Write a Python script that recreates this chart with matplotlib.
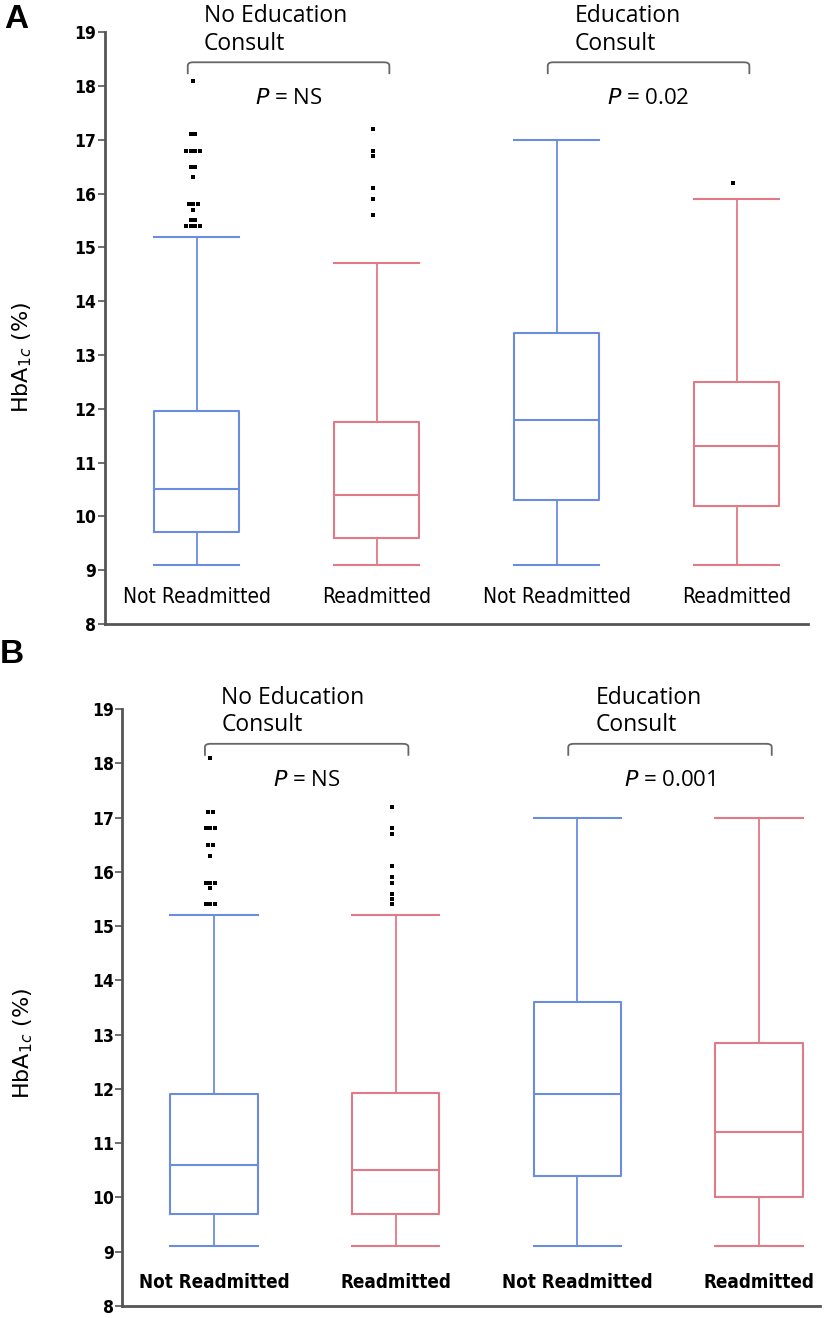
import numpy as np
import matplotlib
matplotlib.use("Agg")
import matplotlib.pyplot as plt
from matplotlib.path import Path
from matplotlib.patches import PathPatch

# group labels
groups = ["Not Readmitted", "Readmitted", "Not Readmitted", "Readmitted"]

# panel A box stats: whislo, q1, med, q3, whishi
a_whislo = [9.1, 9.1, 9.1, 9.1]
a_q1 = [9.7, 9.6, 10.3, 10.2]
a_med = [10.5, 10.4, 11.8, 11.3]
a_q3 = [11.95, 11.75, 13.4, 12.5]
a_whishi = [15.2, 14.7, 17.0, 15.9]
a_fliers = [
    [18.1, 17.1, 17.1, 16.8, 16.8, 16.8, 16.8, 16.5, 16.5, 16.3,
     15.8, 15.8, 15.8, 15.7, 15.5, 15.5, 15.4, 15.4, 15.4, 15.4],
    [17.2, 16.8, 16.7, 16.1, 15.9, 15.6],
    [],
    [16.2],
]
a_pvals = ["NS", "0.02"]

# panel B box stats
b_whislo = [9.1, 9.1, 9.1, 9.1]
b_q1 = [9.7, 9.7, 10.4, 10.0]
b_med = [10.6, 10.5, 11.9, 11.2]
b_q3 = [11.9, 11.92, 13.6, 12.85]
b_whishi = [15.2, 15.2, 17.0, 17.0]
b_fliers = [
    [18.1, 17.1, 17.1, 16.8, 16.8, 16.8, 16.5, 16.5, 16.3,
     15.8, 15.8, 15.8, 15.7, 15.4, 15.4, 15.4],
    [17.2, 16.8, 16.7, 16.1, 15.9, 15.8, 15.6, 15.5, 15.4],
    [],
    [],
]
b_pvals = ["NS", "0.001"]

BLUE = "#6a8de0"
RED = "#e07a86"
colors = [BLUE, RED, BLUE, RED]
narrow = ["DejaVu Sans"]


def bracket(ax, x0, x1, y, drop):
    r = 0.03
    verts = [(x0, y - drop), (x0, y - r * 2), (x0, y), (x0 + r, y),
             (x1 - r, y), (x1, y), (x1, y - r * 2), (x1, y - drop)]
    codes = [Path.MOVETO, Path.LINETO, Path.CURVE3, Path.CURVE3,
             Path.LINETO, Path.CURVE3, Path.CURVE3, Path.LINETO]
    ax.add_patch(PathPatch(Path(verts, codes), fill=False, ec="#666666",
                           lw=1.3, clip_on=False))


def panel(ax, whislo, q1, med, q3, whishi, fliers, pvals, xlim, width,
          br_y, lab_y, cat_weight, cat_size, ylab_pos):
    pos = np.arange(1, 5)
    stats = []
    for i in range(4):
        stats.append(dict(whislo=whislo[i], q1=q1[i], med=med[i], q3=q3[i],
                          whishi=whishi[i], fliers=[]))
    art = ax.bxp(stats, positions=pos, widths=width, showfliers=False,
                 showcaps=True, capwidths=width)
    for i in range(4):
        c = colors[i]
        art["boxes"][i].set(color=c, lw=1.5)
        art["medians"][i].set(color=c, lw=1.5)
        for w in art["whiskers"][2 * i:2 * i + 2]:
            w.set(color=c, lw=1.3)
        for cp in art["caps"][2 * i:2 * i + 2]:
            cp.set(color=c, lw=1.5)
        # outliers, duplicates spread sideways
        vals = fliers[i]
        xs = []
        for v in vals:
            k = vals.count(v)
            j = sum(1 for u in xs if u[1] == v)
            xs.append((pos[i] + (j - (k - 1) / 2) * 0.025 - 0.02, v))
        if xs:
            ax.plot([p[0] for p in xs], [p[1] for p in xs], "s", color="black",
                    ms=2.6, mew=0)

    ax.set_xlim(*xlim)
    ax.set_ylim(8, 19)
    ax.set_yticks(range(8, 20))
    ax.set_xticks([])
    for s in ["top", "right"]:
        ax.spines[s].set_visible(False)
    for s in ["left", "bottom"]:
        ax.spines[s].set_color("#555555")
        ax.spines[s].set_linewidth(2)
    ax.tick_params(axis="y", direction="out", length=5, width=1.2,
                   color="#555555", pad=1)
    for t in ax.get_yticklabels():
        t.set_family(narrow)
        t.set_fontweight("bold")
        t.set_fontstretch("condensed")
        t.set_fontsize(12.5)

    for i in range(4):
        ax.text(pos[i], lab_y, groups[i], ha="center", va="center",
                fontsize=cat_size, family=narrow, fontstretch="condensed",
                fontweight=cat_weight)

    titles = ["No Education\nConsult", "Education\nConsult"]
    for g in range(2):
        x0, x1 = pos[2 * g] - 0.05, pos[2 * g + 1] + 0.07
        bracket(ax, x0, x1, br_y, 0.22)
        ax.text(x0 + 0.09 + 0.06 * g, br_y + 0.12, titles[g], ha="left",
                va="bottom", fontsize=16.5, family="Open Sans",
                linespacing=1.2, clip_on=False)
        ax.text((x0 + x1) / 2, br_y - 0.67, "$\\it{P}$ = " + pvals[g],
                ha="center", va="center", fontsize=16, family="Open Sans")

    ax.set_ylabel("HbA$_{1c}$ (%)", fontsize=16, family="DejaVu Sans")
    ax.yaxis.set_label_coords(*ylab_pos)


fig = plt.figure(figsize=(8.25, 13.18), dpi=100)
axA = fig.add_axes([0.127, 0.5266, 0.852, 0.449])
axB = fig.add_axes([0.148, 0.0091, 0.846, 0.4529])

panel(axA, a_whislo, a_q1, a_med, a_q3, a_whishi, a_fliers, a_pvals,
      (0.489, 4.394), 0.47, 18.44, 8.5, "normal", 15, (-0.10, 0.45))
panel(axB, b_whislo, b_q1, b_med, b_q3, b_whishi, b_fliers, b_pvals,
      (0.494, 4.336), 0.48, 18.36, 8.43, "bold", 13.5, (-0.125, 0.44))

fig.text(0.005, 0.997, "A", fontsize=24, fontweight="bold",
         family="Liberation Sans", va="top", ha="left")
fig.text(0.0, 0.515, "B", fontsize=24, fontweight="bold",
         family="Liberation Sans", va="top", ha="left")

fig.savefig("out.png", dpi=100)
